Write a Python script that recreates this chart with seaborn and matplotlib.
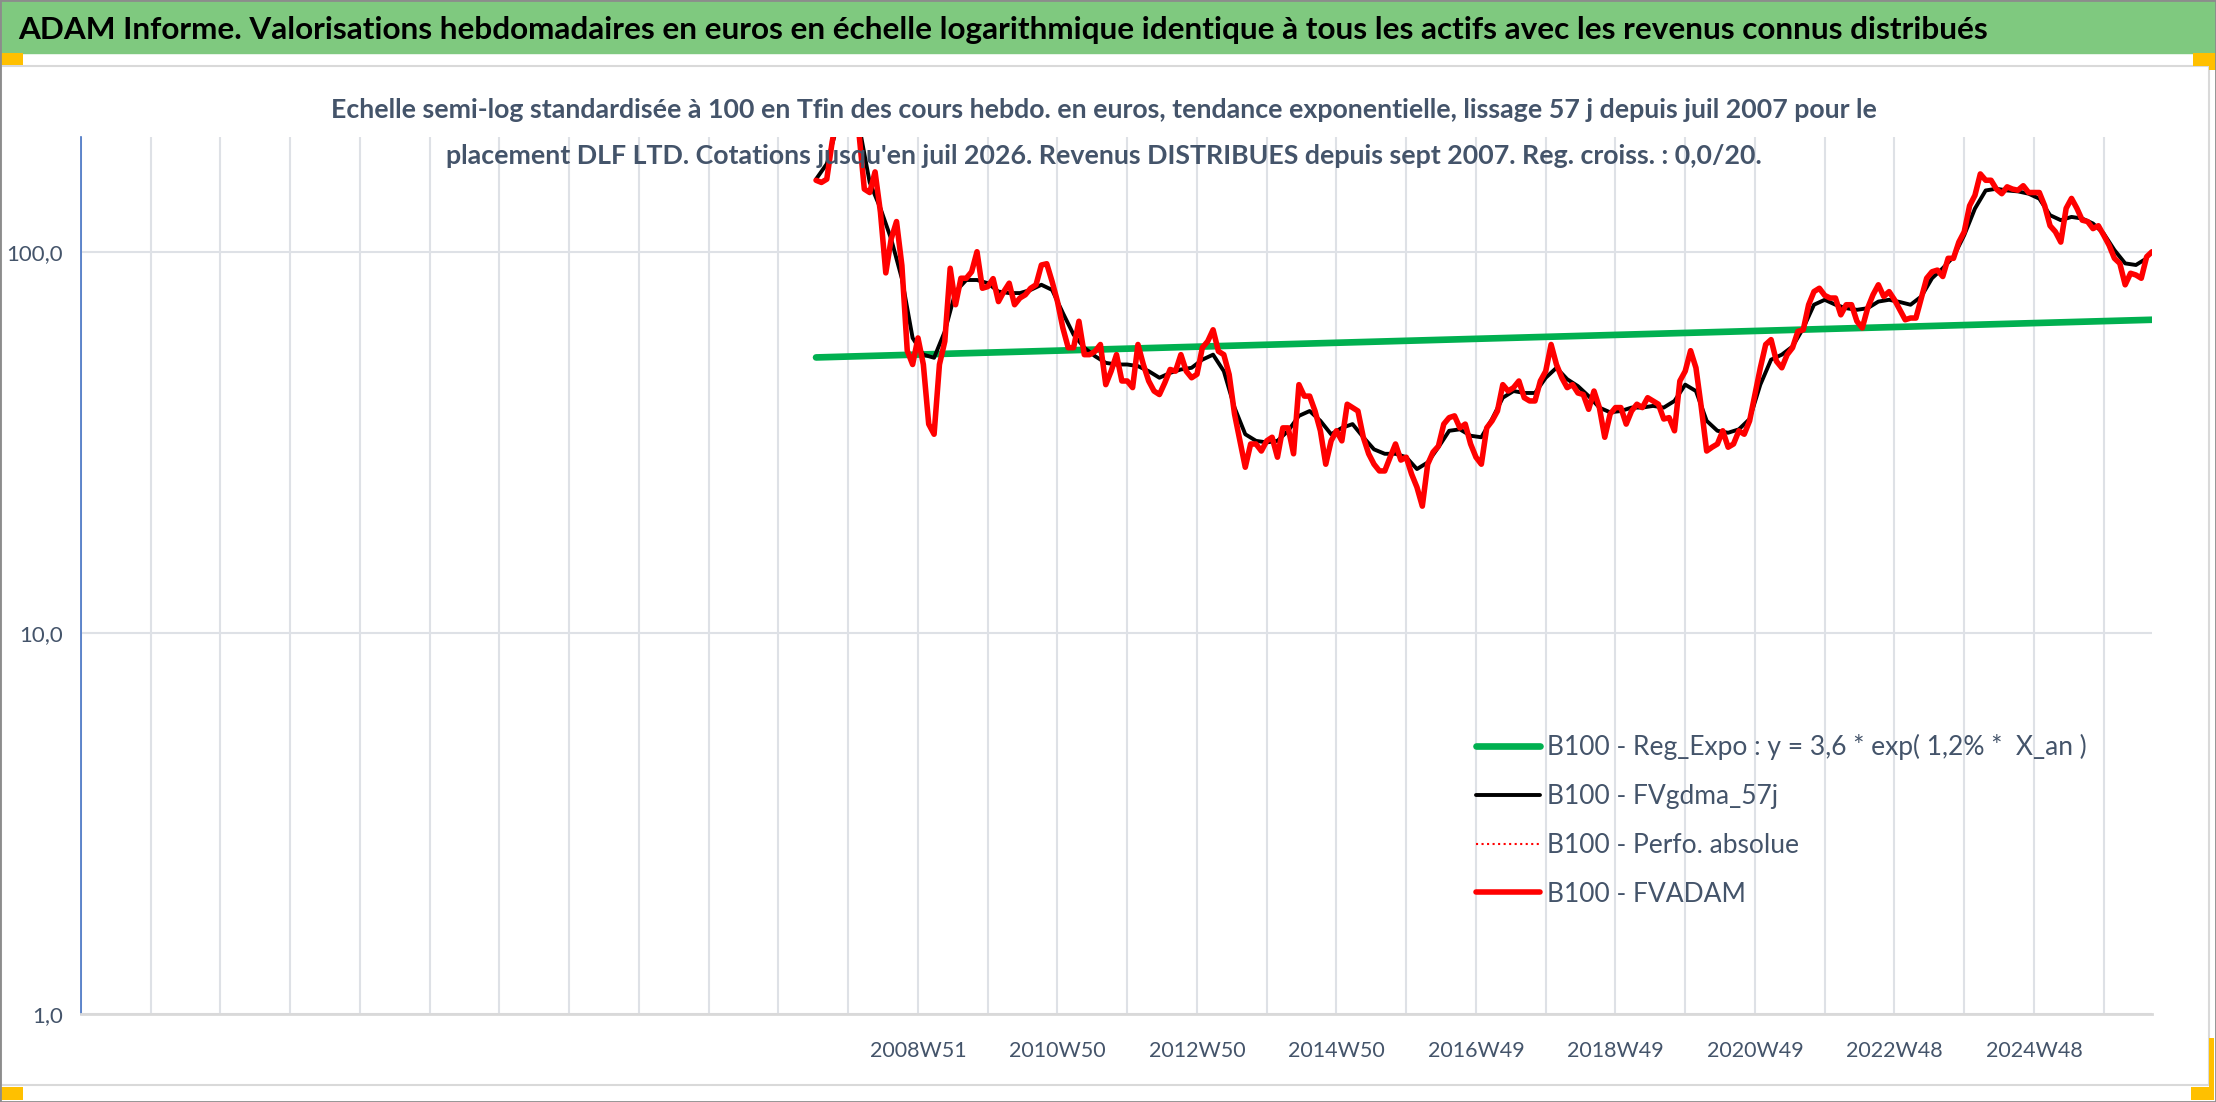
import numpy as np
import pandas as pd
import seaborn as sns
import matplotlib.pyplot as plt
from matplotlib.patches import Rectangle
from matplotlib.ticker import NullLocator

# axe X : une categorie par semaine, comme dans le classeur
axis_start = "1996-12-30"
n_weeks = 1545
data_start = "2007-07-02"

# B100 - FVADAM, lu toutes les 4 semaines
fvadam = [
    154, 152, 155, 194, 230, 240, 250, 240, 205, 146,
    143, 162, 127, 88, 108, 120, 92, 55, 50.6, 59.4,
    50.6, 35.3, 33.2, 50.6, 58.2, 90.5, 72.6, 85.2, 85.2, 88.6,
    100, 80.2, 81, 85, 74, 78.6, 82.7, 72.6, 75.6, 77.1,
    80.2, 81.9, 92.3, 93, 83.5, 74, 63.1, 56, 56, 65.7,
    53.7, 53.7, 54.8, 57.1, 44.8, 48.6, 53.7, 45.8, 45.8, 44,
    57.1, 50.6, 45.8,
    43.1, 42.2, 45.3, 49.1, 48.6, 53.7, 48.6, 46.7, 47.7, 56,
    58.2, 62.4, 54.8, 53.7, 47.6, 37.5, 31.9, 27.2, 31.3, 31.3,
    30, 31.9, 32.6, 28.9, 34.5, 34.5, 29.5, 44.8, 41.8, 41.8,
    38.2, 33.9, 27.7, 31.9, 33.9, 31.9, 39.8, 39, 38.2, 32.6,
    29.5, 27.7, 26.6, 26.6, 28.9, 31.3, 28.4, 28.9, 26.1, 24.1,
    21.5, 27.7, 29.8, 30.9, 35.3, 36.7, 37.1, 34.5, 35.3, 31.3,
    28.9,
    27.7, 34.5, 36, 38.2, 44.8, 43.1, 44, 45.8, 41.4, 40.6,
    40.6, 45.8, 48.6, 57.1, 50.6, 46.7, 44, 44.8, 42.6, 42.2,
    38.6, 43.1, 39, 32.6, 37.5, 39, 39, 35.3, 38.2, 39.8,
    39, 41.4, 40.6, 39.8, 36.4, 36.7, 33.9, 45.8, 48.6, 55,
    49.6, 39, 30, 30.7, 31.3, 33.9, 30.7, 31.3, 33.9, 33.2,
    36, 42.2, 49.6, 57.1, 58.8, 51.6, 49.6, 53.7, 56, 61.8,
    62.4, 72.6, 78.6,
    80.2, 76.8, 75.6, 75.6, 68.3, 72.6, 72.6, 65.7, 63.1, 71.1,
    77.1, 81.9, 76.3, 78.6, 74.8, 70.4, 66.3, 67, 67, 75.6,
    85.2, 88.6, 89.5, 86.1, 96.1, 96.1, 106, 112.8, 132, 140.6,
    160, 154, 154, 146, 142, 148, 146, 145, 149, 143,
    143, 143, 132, 117, 112.8, 106, 130, 138, 130, 121,
    120, 115, 117, 110.5, 104, 96.1, 93.2, 81.9, 87.8, 86.9,
    85.2, 97, 100,
]

# B100 - FVgdma_57j (lissage), lu toutes les 8 semaines
fvgdma_57j = [
    155, 170, 215, 230, 215, 152, 130, 108, 85, 59.4,
    53.7, 52.7, 61.8, 78.6, 84.3, 84.3, 82.7, 78.6, 77.9, 77.9,
    79.4, 81.9, 79.4, 69.1, 60.6, 56, 53.2, 51.1, 50.6, 50.6,
    50.1,
    48.6, 46.7, 48.1, 49.1, 49.6, 52.1, 53.7, 48.6, 39, 33.2,
    31.9, 31.6, 31.9, 33.9, 37.1, 38.2, 36, 33.2, 34.5, 35.3,
    32.6, 30.3, 29.5, 29.5, 28.9, 26.9, 28, 30.7, 33.9, 34.2,
    32.9,
    32.6, 36.4, 41.4, 43.1, 42.6, 42.6, 46.7, 49.6, 46.3, 44.4,
    41.8, 39, 37.9, 38.2, 39, 39, 39.4, 39, 40.6, 44.8,
    43.1, 36, 33.9, 33.5, 34.2, 36.4, 44.8, 52.1, 53.7, 56.4,
    63, 72.6,
    74.8, 72.6, 71.1, 70.4, 71.1, 74, 74.8, 73.8, 72.6, 76.3,
    85.2, 90.5, 97, 110.5, 129.8, 144.8, 146.3, 144.8, 144, 142,
    137.8, 124.7, 121, 123.4, 122.2, 118.6, 111.6, 101, 93.2, 92.3,
    96.1,
]

# B100 - Reg_Expo : debut et fin de la droite de tendance
reg_expo = [52.8, 66.3]

y_ticks = [1, 10, 100]
y_tick_labels = ["1,0", "10,0", "100,0"]

series_names = [
    "B100 - Reg_Expo : y = 3,6 * exp( 1,2% *  X_an )",
    "B100 - FVgdma_57j",
    "B100 - Perfo. absolue",
    "B100 - FVADAM",
]

title = ("ADAM Informe. Valorisations hebdomadaires en euros en échelle logarithmique "
         "identique à tous les actifs avec les revenus connus distribués")
subtitle_1 = ("Echelle semi-log standardisée à 100 en Tfin des cours hebdo. en euros, "
              "tendance exponentielle, lissage 57 j depuis juil 2007 pour le")
subtitle_2 = ("placement DLF LTD. Cotations jusqu'en juil 2026. Revenus DISTRIBUES "
              "depuis sept 2007. Reg. croiss. : 0,0/20.")

weeks = pd.date_range(axis_start, periods=n_weeks, freq="7D")
i0 = int((pd.Timestamp(data_start) - weeks[0]).days // 7)

df_red = pd.DataFrame({"semaine": i0 + 4 * np.arange(len(fvadam)), "valeur": fvadam})
df_black = pd.DataFrame({"semaine": i0 + 8 * np.arange(len(fvgdma_57j)), "valeur": fvgdma_57j})
df_green = pd.DataFrame({"semaine": [i0, df_red["semaine"].iloc[-1]], "valeur": reg_expo})

ticks = np.arange(0, n_weeks, 52)
tick_labels = []
for t in ticks:
    iso = weeks[t].isocalendar()
    if t % 104 == 0 and t >= i0:
        tick_labels.append(f"{iso.year}W{iso.week}")
    else:
        tick_labels.append("")

# ---- figure
W, H = 2216, 1102
sns.set_style("white")
plt.rcParams["font.family"] = ["Lato", "DejaVu Sans"]
slate = "#44546A"
grid_col = "#DEE1E6"

fig = plt.figure(figsize=(W / 100, H / 100), dpi=100)
renderer = fig.canvas.get_renderer()


def box(x0, y0, x1, y1, **kw):
    # rectangle en pixels (origine en haut a gauche)
    fig.patches.append(Rectangle((x0 / W, 1 - y1 / H), (x1 - x0) / W, (y1 - y0) / H,
                                 transform=fig.transFigure, figure=fig, **kw))


def text_size(s, size, **kw):
    t = fig.text(0, 0, s, fontsize=size, **kw)
    bb = t.get_window_extent(renderer)
    t.remove()
    return bb.width, bb.height


def fit(s, width_px, **kw):
    w, _ = text_size(s, 20, **kw)
    return 20 * width_px / w


box(0, 0, W, 53, color="#7FC97F", zorder=0)
box(1, 66, 2209, 1085, fill=False, edgecolor="#D9D9D9", lw=1.5)
for x0, y0, x1, y1 in [(0, 53, 23, 65), (2193, 53, 2216, 66), (2209, 53, 2216, 70),
                       (0, 1087, 23, 1100), (2191, 1087, 2214, 1100), (2209, 1038, 2214, 1100)]:
    box(x0, y0, x1, y1, color="#FFC000", lw=0)
box(0, 0, W, H, fill=False, edgecolor="#8C8C8C", lw=2)

fig.text(18 / W, 1 - 30 / H, title, fontsize=fit(title, 1970, fontweight="bold"),
         fontweight="bold", color="black", ha="left", va="center")

sub_fs = fit(subtitle_1, 1549, fontweight="bold")
fig.text(1104 / W, 1 - 110 / H, subtitle_1, fontsize=sub_fs, fontweight="bold",
         color=slate, ha="center", va="center")
fig.text(1104 / W, 1 - 156 / H, subtitle_2, fontsize=sub_fs, fontweight="bold",
         color=slate, ha="center", va="center")

ax = fig.add_axes([81 / W, 1 - 1014 / H, (2152 - 81) / W, (1014 - 137) / H])
ax.set_yscale("log")

sns.lineplot(data=df_green, x="semaine", y="valeur", ax=ax, color="#00B050",
             linewidth=4.8, label=series_names[0], estimator=None)
sns.lineplot(data=df_black, x="semaine", y="valeur", ax=ax, color="black",
             linewidth=2.8, label=series_names[1], estimator=None)
sns.lineplot(data=df_red, x="semaine", y="valeur", ax=ax, color="red",
             linewidth=1.5, linestyle=":", label=series_names[2], estimator=None)
sns.lineplot(data=df_red, x="semaine", y="valeur", ax=ax, color="red",
             linewidth=4.0, label=series_names[3], estimator=None)

ax.set_xlim(0, n_weeks - 1)
ax.set_ylim(1, 200)
ax.set_xlabel("")
ax.set_ylabel("")

ax.set_xticks(ticks)
ax.set_xticklabels(tick_labels)
ax.set_yticks(y_ticks)
ax.set_yticklabels(y_tick_labels)
ax.yaxis.set_minor_locator(NullLocator())
ax.tick_params(axis="x", direction="out", length=6.5, width=1.5, color=grid_col,
               pad=13, labelsize=15.5, labelcolor=slate)
ax.tick_params(axis="y", length=0, pad=13, labelsize=16, labelcolor=slate)
ax.grid(True, axis="both", which="major", color=grid_col, linewidth=1.5)
ax.set_axisbelow(True)

for side in ["top", "right"]:
    ax.spines[side].set_visible(False)
ax.spines["left"].set_color("#4472C4")
ax.spines["left"].set_linewidth(1.2)
ax.spines["bottom"].set_color("#D9D9D9")
ax.spines["bottom"].set_linewidth(2)

# legende
leg_fs = fit(series_names[0], 540)
_, h = text_size(series_names[0], leg_fs)
fs_px = leg_fs * 100 / 72
handles, labels = ax.get_legend_handles_labels()
ax.legend(handles, labels, loc="upper left",
          bbox_to_anchor=(1476 / W, 1 - (747 - h / 2) / H),
          bbox_transform=fig.transFigure, frameon=False, borderpad=0, borderaxespad=0,
          fontsize=leg_fs, labelcolor=slate, handlelength=64 / fs_px,
          handletextpad=7 / fs_px, labelspacing=(50 - h) / fs_px)

fig.savefig("out.png", dpi=100)
